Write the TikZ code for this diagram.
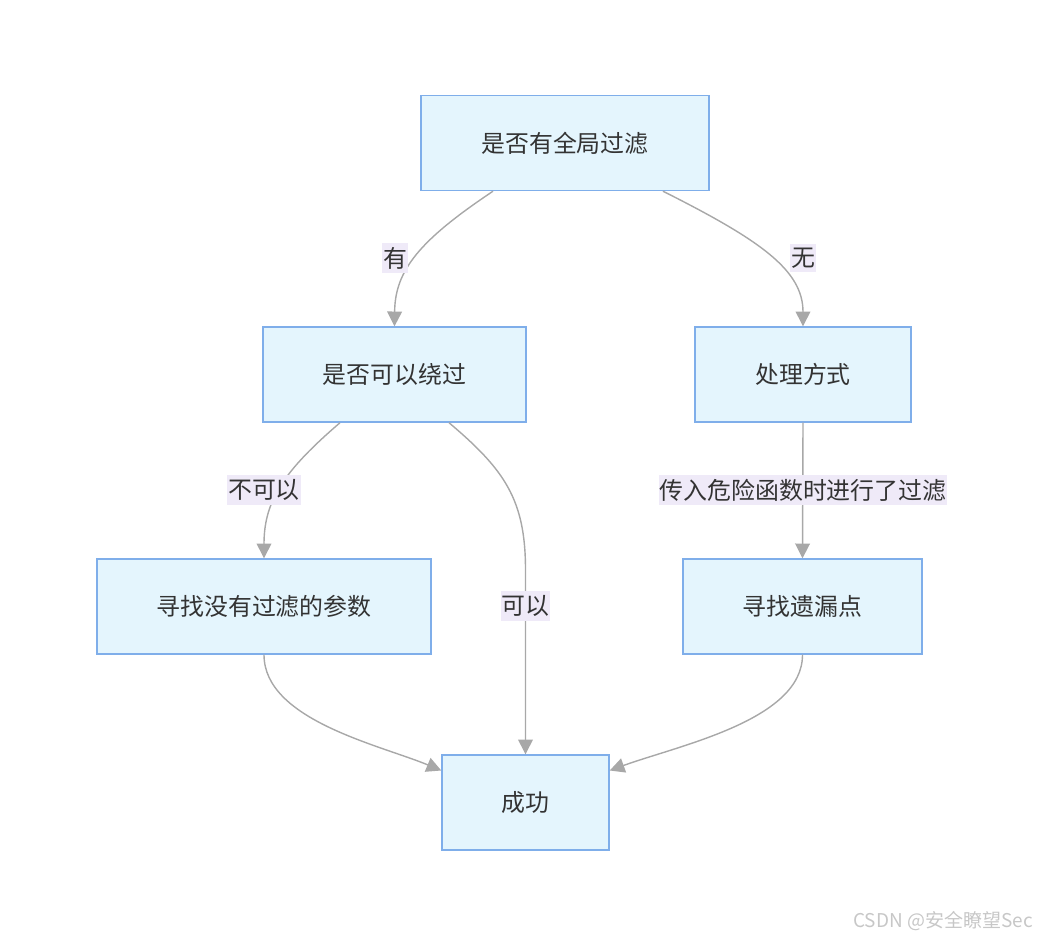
\documentclass[tikz,border=0pt]{standalone}
\usepackage{fontspec}
\setmainfont{Noto Sans CJK SC}
\usetikzlibrary{arrows.meta,calc}
\definecolor{boxfill}{HTML}{E4F5FD}
\definecolor{boxline}{HTML}{7FAEEA}
\definecolor{lblfill}{HTML}{EFEAF8}
\definecolor{linegray}{HTML}{A8A8A8}
\definecolor{txt}{HTML}{333333}
\begin{document}
\begin{tikzpicture}[x=0.025cm,y=-0.025cm,
box/.style={draw=boxline,fill=boxfill,line width=1pt,minimum height=2.375cm,text=txt,font=\fontsize{17}{20}\selectfont},
lbl/.style={fill=lblfill,text=txt,inner xsep=0.5pt,inner ysep=3pt,font=\fontsize{17}{20}\selectfont},
link/.style={draw=linegray,line width=1pt,-{Triangle[length=10.5pt,width=10.5pt]}}]
\useasboundingbox(0,0) rectangle(1040,940);
% boxes
\node[box,minimum width=7.2cm](top) at (565,143){是否有全局过滤};
\node[box,minimum width=6.575cm](bypass) at (394.5,374.5){是否可以绕过};
\node[box,minimum width=5.4cm](way) at (803,374.5){处理方式};
\node[box,minimum width=8.35cm](find) at (264,606.5){寻找没有过滤的参数};
\node[box,minimum width=5.975cm](leak) at (802.5,606.5){寻找遗漏点};
\node[box,minimum width=4.175cm](ok) at (525.5,802.5){成功};
% links
\draw[link]($(top.south)+(-72,0)$) .. controls (420,240) and (395,270) .. (bypass.north);
\draw[link]($(top.south)+(98,0)$) .. controls (760,240) and (803,270) .. (way.north);
\draw[link]($(bypass.south)+(-54.5,0)$) .. controls (285,470) and (264,500) .. (find.north);
\draw[link]($(bypass.south)+(54.5,0)$) .. controls (505,470) and (525.5,500) .. (525.5,570)--(ok.north);
\draw[link](way.south)--(leak.north);
\draw[link](find.south) .. controls (264,720) and (380,745) .. ($(ok.west)+(0,-32)$);
\draw[link](leak.south) .. controls (802.5,720) and (680,745) .. ($(ok.east)+(0,-32)$);
% labels
\node[lbl](yes) at (395,258){有};
\node[lbl](no) at (803,258){无};
\node[lbl](cannot) at (264,490){不可以};
\node[lbl](can) at (525.5,606){可以};
\node[lbl](filtered) at (803,490){传入危险函数时进行了过滤};
\node[text=black!22,font=\fontsize{13.5}{16}\selectfont](mark) at (943,921){CSDN @安全瞭望Sec};
\end{tikzpicture}
\end{document}
